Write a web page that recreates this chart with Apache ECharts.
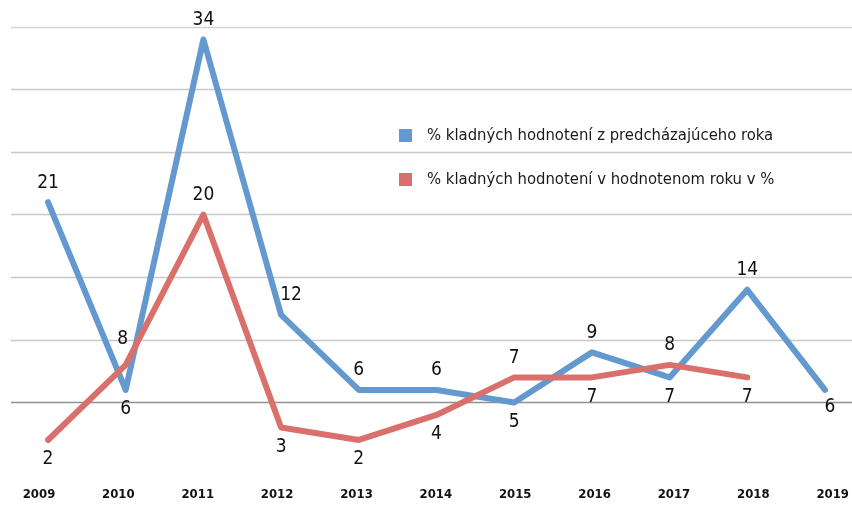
<!DOCTYPE html>
<html>
<head>
<meta charset="utf-8">
<script src="https://cdn.jsdelivr.net/npm/echarts@6/dist/echarts.min.js"></script>
<style>
html, body { margin: 0; padding: 0; background: #fff; }
#container { width: 852px; height: 505px; }
</style>
</head>
<body>
<div id="container"></div>
<script>
let chart = echarts.init(document.getElementById('container'));

var years = ['2009', '2010', '2011', '2012', '2013', '2014', '2015', '2016', '2017', '2018', '2019'];
var prevYear = [21, 6, 34, 12, 6, 6, 5, 9, 7, 14, 6];
var thisYear = [2, 8, 20, 3, 2, 4, 7, 7, 8, 7];
var seriesNames = ['% kladných hodnotení z predcházajúceho roka', '% kladných hodnotení v hodnotenom roku v %'];

var font = "'Liberation Sans Narrow', 'DejaVu Sans Condensed', sans-serif";

// where each value label sits (above / below the point)
var bluePos = ['top', 'bottom', 'top', 'top', 'top', 'top', 'bottom', 'top', 'bottom', 'top', 'bottom'];
var redPos = ['bottom', 'top', 'top', 'bottom', 'bottom', 'bottom', 'top', 'bottom', 'top', 'bottom'];
var blueShift = {3: [10, 0], 10: [5, -2]};
var redShift = {1: [-3, -6]};

function build(values, pos, shift) {
    return values.map((v, i) => ({
        value: v,
        label: {position: pos[i], offset: shift[i] || [0, 0]}
    }));
}

var gridColors = ['rgba(0,0,0,0)', '#8f8f8f', '#c8c8c8', '#c8c8c8', '#c8c8c8', '#c8c8c8', '#c8c8c8', '#d4d4d4'];

var valueLabel = {
    show: true,
    distance: 10,
    fontFamily: font,
    fontSize: 19,
    color: '#111'
};

let option = {
    animation: false,
    legend: {
        orient: 'vertical',
        left: 399,
        top: 127,
        padding: 0,
        itemWidth: 13,
        itemHeight: 13,
        itemGap: 27,
        icon: 'rect',
        textStyle: {
            fontFamily: font,
            fontSize: 16.5,
            color: '#1a1a1a',
            padding: [0, 0, 0, 10]
        },
        data: seriesNames
    },
    grid: [
        {left: 11, right: 0, top: 27, bottom: 40},
        {left: 48, right: 27, top: 27, bottom: 40},
        {left: 39, right: 16, top: 27, bottom: 40}
    ],
    xAxis: [
        {gridIndex: 0, type: 'value', show: false},
        {gridIndex: 1, type: 'category', data: years, boundaryGap: false, show: false},
        {
            gridIndex: 2, type: 'category', data: years, boundaryGap: false,
            axisLine: {show: false},
            axisTick: {show: false},
            axisLabel: {
                margin: 23,
                fontFamily: font,
                fontSize: 13,
                fontWeight: 'bold',
                color: '#111'
            }
        }
    ],
    yAxis: [
        {
            gridIndex: 0, type: 'value', min: 0, max: 35, interval: 5,
            axisLine: {show: false},
            axisTick: {show: false},
            axisLabel: {show: false},
            splitLine: {lineStyle: {color: gridColors, width: 1.3}}
        },
        {gridIndex: 1, type: 'value', min: 0, max: 35, show: false},
        {gridIndex: 2, type: 'value', min: 0, max: 35, show: false}
    ],
    series: [
        {
            name: seriesNames[0],
            type: 'line',
            xAxisIndex: 1,
            yAxisIndex: 1,
            showSymbol: true,
            symbolSize: 0,
            color: '#6399cf',
            lineStyle: {width: 6, cap: 'round', join: 'round'},
            label: valueLabel,
            data: build(prevYear, bluePos, blueShift)
        },
        {
            name: seriesNames[1],
            type: 'line',
            xAxisIndex: 1,
            yAxisIndex: 1,
            showSymbol: true,
            symbolSize: 0,
            color: '#d9706b',
            lineStyle: {width: 6, cap: 'round', join: 'round'},
            label: valueLabel,
            data: build(thisYear, redPos, redShift)
        }
    ]
};
chart.setOption(option);
</script>
</body>
</html>
